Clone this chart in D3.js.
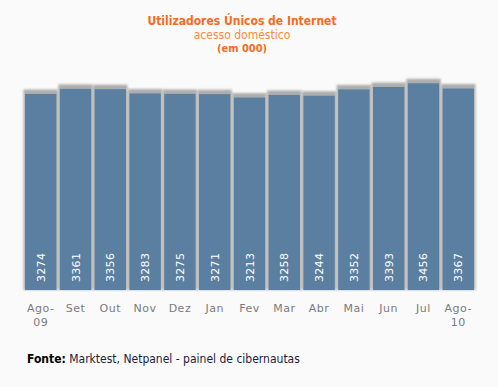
<!DOCTYPE html>
<html>
<head>
<meta charset="utf-8">
<script src="https://cdn.jsdelivr.net/npm/d3@7"></script>
<style>
  html, body { margin: 0; padding: 0; background: #fafafa; }
  svg { display: block; }
</style>
</head>
<body>
<div id="chart"></div>
<script>
// Data
var months = ["Ago-09", "Set", "Out", "Nov", "Dez", "Jan", "Fev", "Mar", "Abr", "Mai", "Jun", "Jul", "Ago-10"];
var users = [3274, 3361, 3356, 3283, 3275, 3271, 3213, 3258, 3244, 3352, 3393, 3456, 3367];

var W = 498, H = 387;
var barColor = "#5b7fa0";
var orange = "#f26c21";

var svg = d3.select("#chart").append("svg")
  .attr("width", W)
  .attr("height", H);

svg.append("rect").attr("width", W).attr("height", H).attr("fill", "#fafafa");

var defs = svg.append("defs");
defs.append("filter")
  .attr("id", "blur")
  .attr("x", "-50%").attr("y", "-50%").attr("width", "200%").attr("height", "200%")
  .append("feGaussianBlur")
  .attr("stdDeviation", 1.3);

// Scales
var x = d3.scaleBand().domain(months).range([24, 475]).paddingInner(0.1).paddingOuter(0.03);
var y = d3.scaleLinear().domain([-60, 3500]).range([290, 80.7]);
var base = y(-60);

// Title
var title = svg.append("g").attr("text-anchor", "middle")
  .attr("font-family", "'DejaVu Sans Condensed', 'DejaVu Sans', sans-serif");
title.append("text").attr("x", 242).attr("y", 25)
  .attr("font-size", 12).attr("font-weight", "bold").attr("fill", orange)
  .text("Utilizadores Únicos de Internet");
title.append("text").attr("x", 242).attr("y", 39)
  .attr("font-size", 12).attr("fill", "#f58a3c")
  .text("acesso doméstico");
title.append("text").attr("x", 242).attr("y", 52)
  .attr("font-size", 11).attr("font-weight", "bold").attr("fill", orange)
  .text("(em 000)");

// Shadows
svg.append("g").selectAll("rect")
  .data(users)
  .join("rect")
  .attr("x", function (d, i) { return x(months[i]) - 1.5; })
  .attr("width", x.bandwidth() + 3)
  .attr("y", function (d) { return y(d) - 4.5; })
  .attr("height", function (d) { return base - y(d) + 4.5; })
  .attr("fill", "#9a9a9a")
  .attr("opacity", 0.8)
  .attr("filter", "url(#blur)");

// Bars
svg.append("g").selectAll("rect")
  .data(users)
  .join("rect")
  .attr("x", function (d, i) { return x(months[i]); })
  .attr("width", x.bandwidth())
  .attr("y", function (d) { return y(d); })
  .attr("height", function (d) { return base - y(d); })
  .attr("fill", barColor);

// Value labels
svg.append("g").selectAll("text")
  .data(users)
  .join("text")
  .attr("transform", function (d, i) {
    return "translate(" + (x(months[i]) + x.bandwidth() / 2 + 4) + "," + (base - 8) + ") rotate(-90)";
  })
  .attr("font-family", "'DejaVu Sans', sans-serif")
  .attr("font-size", 11)
  .attr("letter-spacing", 0.3)
  .attr("fill", "#ffffff")
  .text(function (d) { return d; });

// Axis labels
var xAxis = svg.append("g")
  .attr("transform", "translate(0," + base + ")")
  .call(d3.axisBottom(x).tickSize(0).tickPadding(0).tickFormat(""));
xAxis.select(".domain").remove();

xAxis.selectAll(".tick").each(function (m) {
  var parts = m.split("-");
  var t = d3.select(this).append("text")
    .attr("text-anchor", "middle")
    .attr("font-family", "'DejaVu Sans', sans-serif")
    .attr("font-size", 11)
    .attr("letter-spacing", 0.5)
    .attr("fill", "#7a7a7a");
  t.append("tspan").attr("x", 0).attr("y", 22).text(parts.length > 1 ? parts[0] + "-" : m);
  if (parts.length > 1) {
    t.append("tspan").attr("x", 0).attr("y", 36).text(parts[1]);
  }
});

// Source
var src = svg.append("text").attr("x", 27).attr("y", 363)
  .attr("font-family", "'DejaVu Sans Condensed', 'DejaVu Sans', sans-serif")
  .attr("font-size", 12).attr("fill", "#1c1c3c");
src.append("tspan").attr("font-weight", "bold").attr("fill", "#000").text("Fonte:");
src.append("tspan").text(" Marktest, Netpanel - painel de cibernautas");
</script>
</body>
</html>
